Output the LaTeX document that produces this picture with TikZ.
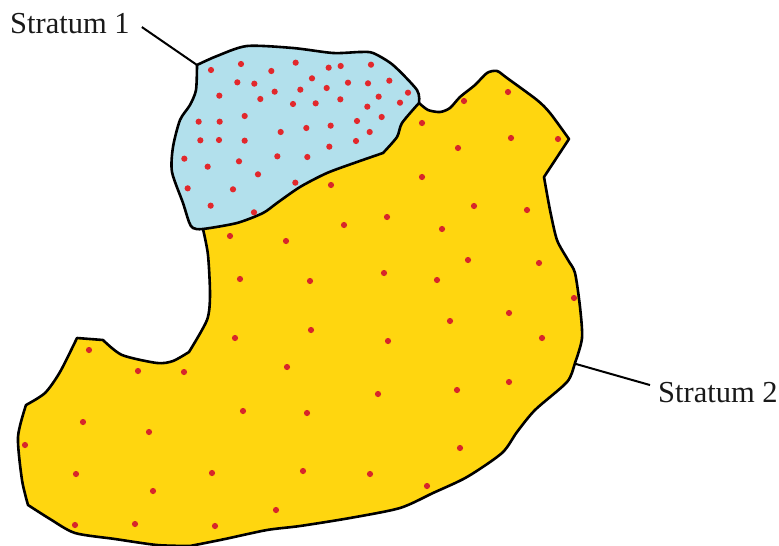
\documentclass[tikz,border=0pt]{standalone}
\usepackage{fontspec}
\setmainfont{Liberation Serif}
\definecolor{strblue}{HTML}{B2E0EC}
\definecolor{stryellow}{HTML}{FFD60F}
\definecolor{strred}{HTML}{E2282C}
\tikzset{
  region/.style={draw=black,line width=2.6pt,line join=round},
  leader/.style={draw=black,line width=2pt},
  lab/.style={font=\fontsize{30.5}{34}\selectfont,inner sep=0pt,text=black!90},
  curve/.style={smooth,tension=0.45}
}
\begin{document}
\begin{tikzpicture}[x=1pt,y=-1pt]
\useasboundingbox (0,0) rectangle (779,546);
% Stratum 2
\path[region,fill=stryellow]
  plot[curve] coordinates {(419,103) (428,110) (440,112) (450,108) (460,97) (475,85) (487,73) (497,71) (507,78) (537,100) (550,113) (569,139)}
  -- (544,177)
  -- plot[curve] coordinates {(544,177) (550,210) (557,240) (568,260) (575,273) (580,307) (582,338) (575,363) (567,382) (535,410) (517,432) (502,453) (467,477) (433,493) (400,508) (350,518) (300,526) (267,530) (225,539) (190,546)}
  -- plot[curve] coordinates {(190,546) (157,545) (115,539) (75,533) (50,519) (28,505)}
  -- plot[curve] coordinates {(28,505) (22,480) (18,437) (26,405)}
  -- plot[curve] coordinates {(26,405) (45,393) (60,372) (77,338)}
  -- (103,340)
  -- plot[curve] coordinates {(103,340) (122,355) (157,363) (173,361) (189,352)}
  -- plot[curve] coordinates {(189,352) (207,320) (210,295) (208,255) (203,229)}
  -- (300,170) -- cycle;
% Stratum 1
\path[region,fill=strblue]
  plot[curve] coordinates {(197,65) (217,56) (247,46) (293,48) (333,53) (360,52) (373,53) (393,65) (417,90) (419,103)}
  -- plot[curve] coordinates {(419,103) (402,123) (397,137) (383,153)}
  -- plot[curve] coordinates {(383,153) (357,162) (327,173) (300,187) (277,203) (263,213) (237,223) (203,229) (193,228) (189,222) (183,203) (172,172) (173,147) (180,120) (190,105) (196,90) (197,65)}
  -- cycle;
% dots in Stratum 1
\foreach \x/\y in {153/90,243/72,334/93,407/68,506/83,542/78,633/74,232/127,283/131,344/155,456/115,421/149,500/144,564/128,624/130,688/122,744/158,178/167,301/177,399/192,467/190,541/178,622/200,656/170,720/188,116/245,179/245,254/228,362/276,439/264,512/257,591/243,665/231,629/276,121/301,177/300,254/302,588/303,508/320,73/356,237/364,352/349,442/351,143/380,294/403,83/445,219/448,406/428,152/497,282/517}
  \fill[strred] ({160+\x/3},{40+\y/3}) circle (3.1);
% dots in Stratum 2
\foreach \x/\y in {422/123,422/177,331/185,344/225,387/217,230/236,464/101,508/92,511/138,558/139,458/148,474/206,527/210,442/229,468/260,286/241,240/279,310/281,384/273,437/280,539/263,574/298,450/321,509/313,542/338,235/338,311/330,388/341,287/367,457/390,509/382,460/448,427/486,378/394,243/411,307/413,303/471,370/474,276/510,89/350,138/371,184/372,83/422,149/432,25/445,76/474,153/491,212/473,75/525,135/524,215/526}
  \fill[strred!95!black] (\x,\y) circle (3.1);
% labels and leaders
\node[lab,anchor=base west] (s1) at (10,33) {Stratum 1};
\node[lab,anchor=base west] (s2) at (658,402) {Stratum 2};
\coordinate (p1) at (197,65);
\coordinate (p2) at (576,364);
\draw[leader] ([shift={(12,4)}]s1.east) -- (p1);
\draw[leader] (p2) -- ([shift={(-8,-7)}]s2.west);
\end{tikzpicture}
\end{document}
